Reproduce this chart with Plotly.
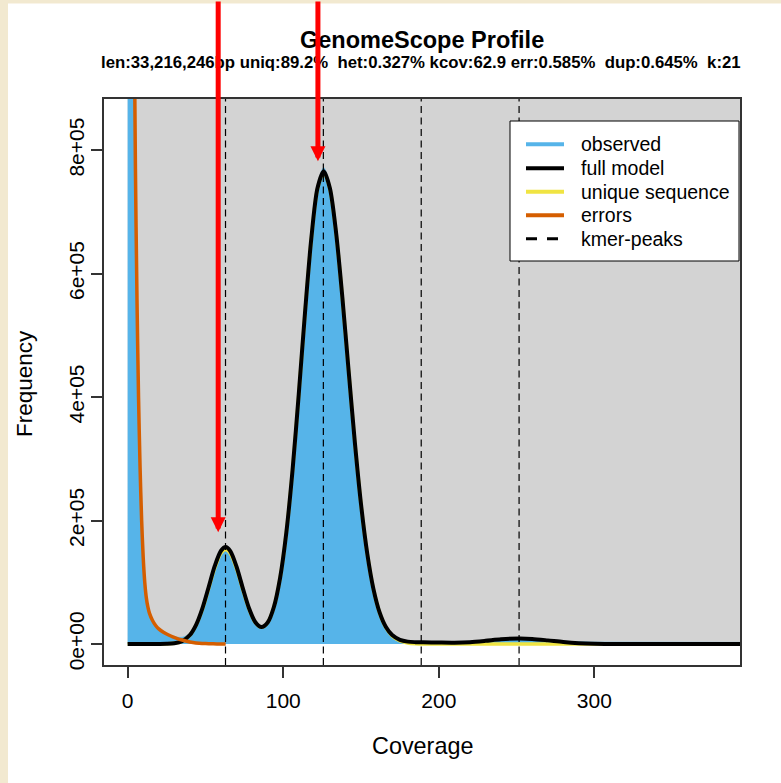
import plotly.graph_objects as go

# ---------------- data ----------------
obs_cov = [0, 1, 2, 3, 4, 5, 6, 7, 8, 9, 10, 11, 12, 13, 14, 16, 18, 20, 23, 26, 29, 32, 35, 38, 40,
           44, 48, 52, 56, 60, 63, 66, 70, 74, 78, 82, 86, 90, 94, 98, 102, 106, 110, 114, 118, 122,
           126, 130, 134, 138, 142, 146, 150, 154, 158, 162, 166, 170, 175, 180, 185, 190, 200, 210,
           220, 230, 240, 252, 260, 270, 280, 290, 300, 320, 340, 360, 380, 400]
obs_freq = [15000000, 15000000, 5000000, 2200000, 1000000, 760000, 555000, 395000, 285000, 200000,
            140000, 100000, 75000, 60000, 50000, 38000, 30000, 24500, 19100, 15500, 12500, 11000,
            11100, 13900, 18000, 33100, 58500, 92300, 126900, 151400, 158500, 151500, 125800, 91000,
            58600, 36500, 28300, 35500, 60800, 108500, 182500, 284500, 409000, 542000, 661000, 744000,
            772000, 744000, 671000, 566500, 447000, 330500, 228500, 148000, 90000, 51500, 28000,
            14800, 6900, 3950, 3000, 2700, 2300, 2150, 3000, 5100, 7600, 9000, 8300, 6300, 4500,
            3600, 3300, 3100, 3000, 2900, 2800, 2700]

model_cov = [0, 5, 10, 15, 20, 25, 30, 35, 40, 44, 48, 52, 56, 60, 63, 66, 70, 74, 78, 82, 86, 90,
             94, 98, 102, 106, 110, 114, 118, 122, 126, 130, 134, 138, 142, 146, 150, 154, 158, 162,
             166, 170, 175, 180, 185, 190, 200, 210, 220, 230, 240, 252, 260, 270, 280, 290, 300,
             310, 320, 340, 360, 380, 400]
full_model = [0, 0, 0, 0, 40, 235, 1160, 4600, 14560, 31100, 57350, 91580, 126500, 151100, 157050,
              150400, 125200, 90600, 58050, 35750, 27430, 34740, 60000, 107300, 180750, 281850,
              405200, 537000, 655700, 738300, 766000, 738400, 666000, 562000, 443700, 327760,
              226600, 146700, 89000, 50800, 27500, 14500, 6780, 3900, 3000, 2716, 2330, 2175, 3043,
              5150, 7630, 9000, 8240, 5895, 3285, 1425, 482, 127, 26, 0, 0, 0, 0]
unique_seq = [0, 0, 0, 0, 39, 229, 1131, 4485, 14200, 30320, 55920, 89290, 123340, 147320, 153080,
              146620, 122050, 88370, 56650, 34990, 27050, 34540, 59850, 107060, 180390, 281270,
              404390, 535926, 654389, 736823, 764468, 736923, 664668, 560876, 442813, 327045,
              225947, 146107, 88373, 50000, 26447, 13104, 4960, 1692, 520, 145, 0, 0, 0, 0, 0, 0,
              0, 0, 0, 0, 0, 0, 0, 0, 0, 0, 0]

err_cov = [1, 2, 3, 4, 5, 6, 7, 8, 9, 10, 11, 12, 13, 14, 16, 18, 20, 23, 26, 29, 32, 35, 38, 42,
           46, 50, 55, 60, 63]
err_freq = [15000000, 5000000, 2200000, 1100000, 770000, 560000, 400000, 285000, 200000, 140000,
            100000, 75000, 60000, 50000, 38000, 30000, 24500, 19000, 15000, 11500, 8800, 6500,
            4500, 2500, 1300, 650, 250, 60, 0]

kmer_peaks = [62.9, 125.8, 188.7, 251.6]

x_ticks = [0, 100, 200, 300]
y_ticks = [0, 200000, 400000, 600000, 800000]
y_tick_text = ["0e+00", "2e+05", "4e+05", "6e+05", "8e+05"]

legend_names = ["observed", "full model", "unique sequence", "errors", "kmer-peaks"]

title_text = "GenomeScope Profile"
subtitle_text = ("len:33,216,246bp uniq:89.2%\u00a0\u00a0het:0.327% kcov:62.9 err:0.585%"
                 "\u00a0\u00a0dup:0.645%\u00a0\u00a0k:21")

# ---------------- styling ----------------
FONT = "Liberation Sans, Arial, Helvetica, sans-serif"
C_OBS = "#56B4E9"
C_MODEL = "#000000"
C_UNIQ = "#F0E442"
C_ERR = "#D55E00"
legend_colors = [C_OBS, C_MODEL, C_UNIQ, C_ERR, "black"]
X_RANGE = [-15.2, 393.6]
Y_RANGE = [-34000, 883000]

# plot-area pixel geometry (used for paper-coordinate placement of decorations)
L, R, T, B = 104, 740, 99, 665
def px_x(p):
    return (p - L) / (R - L)
def px_y(p):
    return (B - p) / (B - T)

fig = go.Figure()

fig.add_trace(go.Scatter(x=obs_cov, y=obs_freq, mode="lines", fill="tozeroy", fillcolor=C_OBS,
                         line=dict(color=C_OBS, width=0.5, shape="spline", smoothing=0.8),
                         name="observed", showlegend=False))
fig.add_trace(go.Scatter(x=model_cov, y=unique_seq, mode="lines",
                         line=dict(color=C_UNIQ, width=3.5, shape="spline", smoothing=0.8),
                         name="unique sequence", showlegend=False))
fig.add_trace(go.Scatter(x=model_cov, y=full_model, mode="lines",
                         line=dict(color=C_MODEL, width=4, shape="spline", smoothing=0.8),
                         name="full model", showlegend=False))
fig.add_trace(go.Scatter(x=err_cov, y=err_freq, mode="lines",
                         line=dict(color=C_ERR, width=3.5, shape="spline", smoothing=0.8),
                         name="errors", showlegend=False))

shapes = [
    # white page over beige border
    dict(type="rect", xref="paper", yref="paper", x0=px_x(8), x1=1.2, y0=-0.4, y1=px_y(3.5),
         fillcolor="white", line=dict(width=0), layer="below"),
    # grey data background
    dict(type="rect", xref="x", yref="y", x0=0, x1=X_RANGE[1], y0=0, y1=Y_RANGE[1],
         fillcolor="#D3D3D3", line=dict(width=0), layer="below"),
]
for p in kmer_peaks:
    shapes.append(dict(type="line", xref="x", yref="paper", x0=p, x1=p, y0=0, y1=1,
                       line=dict(color="black", width=1.2, dash="7px,4.5px"), layer="above"))

# legend box (R-style legend)
leg_left, leg_right, leg_top, leg_bottom = 510, 739, 121, 261
row_y = [144.3, 168.3, 191.7, 215.3, 238.7]
shapes.append(dict(type="rect", xref="paper", yref="paper", x0=px_x(leg_left), x1=px_x(leg_right),
                   y0=px_y(leg_bottom), y1=px_y(leg_top), fillcolor="white",
                   line=dict(color="black", width=1), layer="above"))

annotations = []
for name, col, ry in zip(legend_names, legend_colors, row_y):
    dash = "11px,10px" if name == "kmer-peaks" else "solid"
    shapes.append(dict(type="line", xref="paper", yref="paper", x0=px_x(526), x1=px_x(564),
                       y0=px_y(ry), y1=px_y(ry), line=dict(color=col, width=4 if dash == "solid" else 3, dash=dash),
                       layer="above"))
    annotations.append(dict(text=name, xref="paper", yref="paper", x=px_x(579), y=px_y(ry),
                            xanchor="left", yanchor="middle", showarrow=False,
                            font=dict(size=19.5, family=FONT, color="black")))

annotations += [
    dict(text="<b>" + title_text + "</b>", xref="paper", yref="paper", x=0.5, y=px_y(40),
         xanchor="center", yanchor="middle", showarrow=False, font=dict(size=23.5, family=FONT, color="black")),
    dict(text="<b>" + subtitle_text + "</b>", xref="paper", yref="paper", x=0.4985, y=px_y(62.5),
         xanchor="center", yanchor="middle", showarrow=False, font=dict(size=16.75, family=FONT, color="black")),
    dict(text="Coverage", xref="paper", yref="paper", x=0.5, y=px_y(746), xanchor="center",
         yanchor="middle", showarrow=False, font=dict(size=23.4, family=FONT, color="black")),
    dict(text="Frequency", xref="paper", yref="paper", x=px_x(24), y=px_y(384), xanchor="center",
         yanchor="middle", textangle=-90, showarrow=False, font=dict(size=22.5, family=FONT, color="black")),
    # red arrows pointing to the two peaks
    dict(text="", xref="x", yref="y", x=122.3, y=782000, ax=0, ay=-200, showarrow=True,
         arrowcolor="#FF0000", arrowwidth=5, arrowhead=2, arrowsize=0.6, standoff=0),
    dict(text="", xref="x", yref="y", x=58.2, y=181000, ax=0, ay=-560, showarrow=True,
         arrowcolor="#FF0000", arrowwidth=5, arrowhead=2, arrowsize=0.6, standoff=0),
]

fig.update_layout(
    width=781, height=783,
    margin=dict(l=L, r=781 - R, t=T, b=783 - B, pad=0),
    paper_bgcolor="#F2E9D0", plot_bgcolor="white",
    font=dict(family=FONT, color="black"),
    shapes=shapes, annotations=annotations,
    showlegend=False,
)
fig.update_xaxes(range=X_RANGE, tickvals=x_ticks, ticks="outside", ticklen=11, tickwidth=1.5,
                 tickcolor="#333333", showline=True, mirror=True, linecolor="#333333", linewidth=1.5,
                 showgrid=False, zeroline=False, ticklabelstandoff=5,
                 tickfont=dict(size=21, family=FONT, color="black"))
fig.update_yaxes(range=Y_RANGE, tickvals=y_ticks, ticktext=y_tick_text, tickangle=-90, ticks="outside",
                 ticklen=11, tickwidth=1.5, tickcolor="#333333", showline=True, mirror=True,
                 linecolor="#333333", linewidth=1.5, showgrid=False, zeroline=False,
                 ticklabelstandoff=-1, tickfont=dict(size=21, family=FONT, color="black"))

fig.write_html("out.html", config={"displayModeBar": False},
               post_script="document.body.style.margin='0px';document.body.style.padding='0px';")
